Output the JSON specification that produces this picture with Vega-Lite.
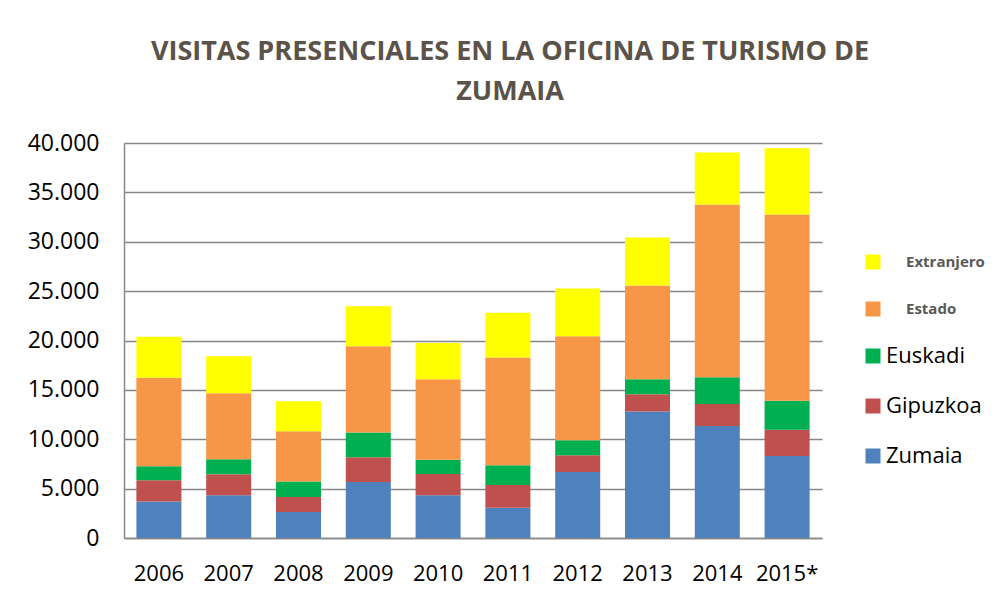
{
  "$schema": "https://vega.github.io/schema/vega-lite/v6.json",
  "autosize": "none",
  "width": 698,
  "height": 395,
  "padding": {"left": 124, "top": 143, "right": 179, "bottom": 61},
  "background": "white",
  "title": {
    "text": ["VISITAS PRESENCIALES EN LA OFICINA DE TURISMO DE", "ZUMAIA"],
    "font": "Open Sans",
    "fontSize": 27,
    "fontWeight": "bold",
    "color": "#5B5249",
    "lineHeight": 40,
    "anchor": "middle",
    "dx": 37,
    "offset": 26
  },
  "config": {
    "view": {"stroke": null},
    "axis": {"labelFont": "Open Sans", "labelColor": "#000000", "titleFont": "Open Sans"},
    "legend": {"labelFont": "Open Sans"}
  },
  "data": {
    "values": [
      {"year": "2006", "cat": "Zumaia", "o": 1, "v": 3700},
      {"year": "2006", "cat": "Gipuzkoa", "o": 2, "v": 2150},
      {"year": "2006", "cat": "Euskadi", "o": 3, "v": 1420},
      {"year": "2006", "cat": "Estado", "o": 4, "v": 8950},
      {"year": "2006", "cat": "Extranjero", "o": 5, "v": 4150},
      {"year": "2007", "cat": "Zumaia", "o": 1, "v": 4320},
      {"year": "2007", "cat": "Gipuzkoa", "o": 2, "v": 2130},
      {"year": "2007", "cat": "Euskadi", "o": 3, "v": 1520},
      {"year": "2007", "cat": "Estado", "o": 4, "v": 6690},
      {"year": "2007", "cat": "Extranjero", "o": 5, "v": 3750},
      {"year": "2008", "cat": "Zumaia", "o": 1, "v": 2640},
      {"year": "2008", "cat": "Gipuzkoa", "o": 2, "v": 1520},
      {"year": "2008", "cat": "Euskadi", "o": 3, "v": 1550},
      {"year": "2008", "cat": "Estado", "o": 4, "v": 5100},
      {"year": "2008", "cat": "Extranjero", "o": 5, "v": 3040},
      {"year": "2009", "cat": "Zumaia", "o": 1, "v": 5680},
      {"year": "2009", "cat": "Gipuzkoa", "o": 2, "v": 2500},
      {"year": "2009", "cat": "Euskadi", "o": 3, "v": 2500},
      {"year": "2009", "cat": "Estado", "o": 4, "v": 8750},
      {"year": "2009", "cat": "Extranjero", "o": 5, "v": 4050},
      {"year": "2010", "cat": "Zumaia", "o": 1, "v": 4320},
      {"year": "2010", "cat": "Gipuzkoa", "o": 2, "v": 2160},
      {"year": "2010", "cat": "Euskadi", "o": 3, "v": 1450},
      {"year": "2010", "cat": "Estado", "o": 4, "v": 8140},
      {"year": "2010", "cat": "Extranjero", "o": 5, "v": 3680},
      {"year": "2011", "cat": "Zumaia", "o": 1, "v": 3070},
      {"year": "2011", "cat": "Gipuzkoa", "o": 2, "v": 2300},
      {"year": "2011", "cat": "Euskadi", "o": 3, "v": 1990},
      {"year": "2011", "cat": "Estado", "o": 4, "v": 10920},
      {"year": "2011", "cat": "Extranjero", "o": 5, "v": 4530},
      {"year": "2012", "cat": "Zumaia", "o": 1, "v": 6690},
      {"year": "2012", "cat": "Gipuzkoa", "o": 2, "v": 1690},
      {"year": "2012", "cat": "Euskadi", "o": 3, "v": 1520},
      {"year": "2012", "cat": "Estado", "o": 4, "v": 10540},
      {"year": "2012", "cat": "Extranjero", "o": 5, "v": 4830},
      {"year": "2013", "cat": "Zumaia", "o": 1, "v": 12800},
      {"year": "2013", "cat": "Gipuzkoa", "o": 2, "v": 1760},
      {"year": "2013", "cat": "Euskadi", "o": 3, "v": 1520},
      {"year": "2013", "cat": "Estado", "o": 4, "v": 9490},
      {"year": "2013", "cat": "Extranjero", "o": 5, "v": 4870},
      {"year": "2014", "cat": "Zumaia", "o": 1, "v": 11350},
      {"year": "2014", "cat": "Gipuzkoa", "o": 2, "v": 2230},
      {"year": "2014", "cat": "Euskadi", "o": 3, "v": 2700},
      {"year": "2014", "cat": "Estado", "o": 4, "v": 17500},
      {"year": "2014", "cat": "Extranjero", "o": 5, "v": 5270},
      {"year": "2015*", "cat": "Zumaia", "o": 1, "v": 8310},
      {"year": "2015*", "cat": "Gipuzkoa", "o": 2, "v": 2640},
      {"year": "2015*", "cat": "Euskadi", "o": 3, "v": 2940},
      {"year": "2015*", "cat": "Estado", "o": 4, "v": 18880},
      {"year": "2015*", "cat": "Extranjero", "o": 5, "v": 6690}
    ]
  },
  "mark": {"type": "bar"},
  "encoding": {
    "x": {
      "field": "year",
      "type": "nominal",
      "sort": null,
      "scale": {"paddingInner": 0.355, "paddingOuter": 0.1775},
      "axis": {
        "title": null,
        "labelAngle": 0,
        "labelFontSize": 22,
        "labelPadding": 25,
        "ticks": false,
        "domainColor": "#888888",
        "domainWidth": 1.5
      }
    },
    "y": {
      "field": "v",
      "type": "quantitative",
      "aggregate": "sum",
      "stack": "zero",
      "scale": {"domain": [0, 40000], "nice": false},
      "axis": {
        "title": null,
        "values": [0, 5000, 10000, 15000, 20000, 25000, 30000, 35000, 40000],
        "labelExpr": "replace(format(datum.value, ','), ',', '.')",
        "labelFontSize": 23,
        "labelPadding": 25,
        "ticks": false,
        "grid": true,
        "gridColor": "#888888",
        "gridWidth": 1.5,
        "domainColor": "#888888",
        "domainWidth": 1.5
      }
    },
    "color": {
      "field": "cat",
      "type": "nominal",
      "scale": {
        "domain": ["Extranjero", "Estado", "Euskadi", "Gipuzkoa", "Zumaia"],
        "range": ["#FFFF00", "#F79646", "#00B050", "#C0504D", "#4F81BD"]
      },
      "legend": {
        "title": null,
        "orient": "none",
        "legendX": 738,
        "legendY": 108,
        "symbolType": "square",
        "symbolSize": 225,
        "symbolStrokeWidth": 0,
        "symbolOpacity": 1,
        "labelFontSize": 22,
        "labelOffset": 2,
        "rowPadding": 28,
        "labelColor": "#000000",
        "encode": {
          "labels": {
            "update": {
              "fontSize": {"signal": "indexof(['Extranjero','Estado'], datum.label) >= 0 ? 15 : 22"},
              "fontWeight": {"signal": "indexof(['Extranjero','Estado'], datum.label) >= 0 ? 'bold' : 'normal'"},
              "fill": {"signal": "indexof(['Extranjero','Estado'], datum.label) >= 0 ? '#595959' : '#000000'"},
              "dx": {"signal": "indexof(['Extranjero','Estado'], datum.label) >= 0 ? 20 : 0"}
            }
          }
        }
      }
    },
    "order": {"field": "o", "type": "quantitative", "sort": "ascending"}
  }
}
